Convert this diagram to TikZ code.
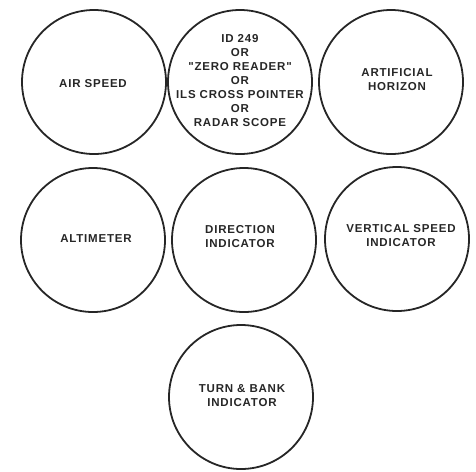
\documentclass[tikz,border=0pt]{standalone}
\usepackage{fontspec}
\setmainfont{Liberation Sans}[Ligatures=TeXOff]
\begin{document}
\begin{tikzpicture}[x=1pt,y=-1pt,
  gauge/.style={circle,draw=black!85,line width=1.8pt,minimum size=144pt,inner sep=0pt},
  lbl/.style={font=\fontsize{11.5}{14}\bfseries\addfontfeatures{LetterSpace=7},text=black!85,align=center}]
\useasboundingbox (0,0) rectangle (476,471);
\node[gauge] (as) at (94,82) {};
\node[gauge] (id) at (240,82) {};
\node[gauge] (ah) at (391,82) {};
\node[gauge] (alt) at (93,240) {};
\node[gauge] (di) at (244,240) {};
\node[gauge] (vs) at (397,239) {};
\node[gauge] (tb) at (241,397) {};
\node[lbl] (asl) at (93,84) {AIR SPEED};
\node[lbl] (idl) at (240,81) {ID 249\\OR\\"ZERO READER"\\OR\\ILS CROSS POINTER\\OR\\RADAR SCOPE};
\node[lbl] (ahl) at (397,80) {ARTIFICIAL\\HORIZON};
\node[lbl] (altl) at (96,239) {ALTIMETER};
\node[lbl] (dil) at (240,237) {DIRECTION\\INDICATOR};
\node[lbl] (vsl) at (401,236) {VERTICAL SPEED\\INDICATOR};
\node[lbl] (tbl) at (242,396) {TURN \& BANK\\INDICATOR};
\end{tikzpicture}
\end{document}
